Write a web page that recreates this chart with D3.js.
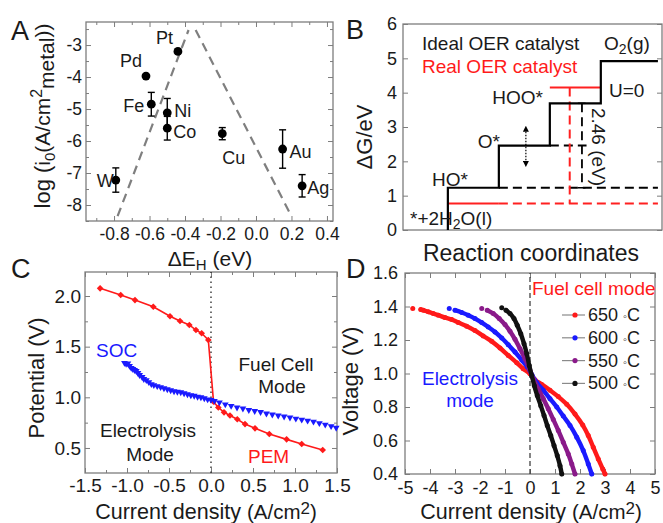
<!DOCTYPE html>
<html>
<head>
<meta charset="utf-8">
<script src="https://cdnjs.cloudflare.com/ajax/libs/d3/7.8.5/d3.min.js"></script>
<style>
  body { margin: 0; background: #fff; }
  text { font-family: "Liberation Sans", Arial, Helvetica, sans-serif; }
</style>
</head>
<body>
<div id="fig"></div>
<script>
// ---------------- A: HER volcano (exchange current vs dE_H)
var metals = ["W", "Pd", "Pt", "Fe", "Ni", "Co", "Cu", "Au", "Ag"];
var deltaEH = [-0.79, -0.62, -0.44, -0.59, -0.50, -0.50, -0.19, 0.15, 0.26];
var logI0 = [-7.22, -3.97, -3.20, -4.85, -5.12, -5.60, -5.77, -6.25, -7.40];
var logI0Err = [0.38, 0, 0, 0.37, 0.45, 0.37, 0.19, 0.60, 0.35];
var volcanoLeftX = [-0.78, -0.38], volcanoLeftY = [-8.35, -2.53];
var volcanoRightX = [-0.34, 0.20], volcanoRightY = [-2.53, -8.35];
var aXTicks = [-0.8, -0.6, -0.4, -0.2, 0.0, 0.2, 0.4];
var aYTicks = [-8, -7, -6, -5, -4, -3];

// ---------------- B: OER free energy diagram
var oerStates = ["*+2H2O(l)", "HO*", "O*", "HOO*", "O2(g)"];
var idealG = [0, 1.23, 2.46, 3.69, 4.92];
var realG = [0.77, 4.15];          // HO* and HOO* on a real catalyst
var realStep = [1, 3];             // which level they belong to
var bYTicks = [0, 1, 2, 3, 4, 5, 6];

// ---------------- C: PEM vs SOC polarisation
var pemJ = [-1.32, -1.075, -0.905, -0.687, -0.488, -0.369, -0.258, -0.179, -0.111, -0.032,
            0.03, 0.087, 0.155, 0.226, 0.313, 0.405, 0.524, 0.694, 0.90, 1.08, 1.33];
var pemV = [2.076, 2.01, 1.96, 1.894, 1.80, 1.753, 1.714, 1.664, 1.632, 1.566,
            0.957, 0.90, 0.852, 0.82, 0.783, 0.736, 0.694, 0.638, 0.585, 0.539, 0.48];
var socJ = [-1.03, -1.01, -0.99, -0.97, -0.95, -0.93, -0.91, -0.89, -0.87, -0.85, -0.82, -0.80,
            -0.77, -0.74, -0.71, -0.68, -0.64, -0.60, -0.56, -0.52, -0.48, -0.44, -0.40, -0.36,
            -0.32, -0.28, -0.24, -0.20, -0.16, -0.12, -0.08, -0.04, 0.0, 0.04, 0.10, 0.17, 0.24,
            0.31, 0.38, 0.45, 0.52, 0.59, 0.66, 0.73, 0.80, 0.87, 0.94, 1.01, 1.08, 1.15, 1.22,
            1.29, 1.36, 1.43, 1.49];
var socV = [1.34, 1.33, 1.335, 1.31, 1.29, 1.28, 1.27, 1.26, 1.24, 1.22, 1.20, 1.18,
            1.17, 1.15, 1.13, 1.12, 1.11, 1.10, 1.09, 1.08, 1.07, 1.06, 1.055, 1.05,
            1.04, 1.03, 1.02, 1.015, 1.005, 1.0, 0.99, 0.98, 0.975, 0.965, 0.95, 0.93, 0.915,
            0.90, 0.89, 0.875, 0.865, 0.855, 0.84, 0.83, 0.82, 0.81, 0.80, 0.79, 0.78, 0.77, 0.76,
            0.745, 0.73, 0.715, 0.70];
var cXTicks = [-1.5, -1.0, -0.5, 0.0, 0.5, 1.0, 1.5];
var cYTicks = [0.5, 1.0, 1.5, 2.0];

// ---------------- D: SOC i-V curves at 4 temperatures
var tempLabels = ["650", "600", "550", "500"];
var tempColors = ["#ff1a1a", "#1a1aff", "#8a1a8a", "#111111"];
var iv650J = [-4.69, -4.37, -4.27, -4.07, -3.87, -3.67, -3.40, -3.13, -2.87, -2.53, -2.20, -1.87, -1.53,
              -1.20, -0.87, -0.53, -0.27, 0.0, 0.20, 0.47, 0.80, 1.13, 1.47, 1.80, 2.11, 2.33, 2.53, 2.73, 2.91, 3.0];
var iv650V = [1.388, 1.382, 1.378, 1.368, 1.358, 1.348, 1.334, 1.322, 1.304, 1.282, 1.256, 1.224, 1.192,
              1.152, 1.108, 1.064, 1.028, 0.998, 0.962, 0.935, 0.900, 0.862, 0.816, 0.758, 0.692, 0.63, 0.56, 0.49, 0.43, 0.40];
var iv600J = [-3.23, -3.0, -2.73, -2.47, -2.2, -1.93, -1.67, -1.4, -1.13, -0.87, -0.6, -0.33, -0.11,
              0.07, 0.27, 0.53, 0.8, 1.07, 1.33, 1.6, 1.87, 2.13, 2.33, 2.47];
var iv600V = [1.388, 1.378, 1.364, 1.348, 1.328, 1.304, 1.278, 1.248, 1.212, 1.172, 1.128, 1.08, 1.04,
              0.994, 0.946, 0.90, 0.85, 0.80, 0.746, 0.69, 0.62, 0.54, 0.46, 0.40];
var iv550J = [-1.93, -1.71, -1.47, -1.23, -1.0, -0.8, -0.6, -0.4, -0.2, 0.0,
              0.13, 0.33, 0.53, 0.73, 0.93, 1.13, 1.33, 1.53, 1.67, 1.8];
var iv550V = [1.388, 1.378, 1.358, 1.328, 1.292, 1.252, 1.204, 1.148, 1.088, 1.018,
              0.968, 0.908, 0.85, 0.79, 0.726, 0.66, 0.59, 0.52, 0.46, 0.40];
var iv500J = [-1.13, -0.96, -0.8, -0.64, -0.51, -0.37, -0.24, -0.13, -0.03, 0.07,
              0.17, 0.29, 0.43, 0.56, 0.69, 0.83, 0.96, 1.09, 1.2, 1.27];
var iv500V = [1.392, 1.378, 1.358, 1.328, 1.288, 1.238, 1.178, 1.118, 1.048, 0.988,
              0.928, 0.868, 0.808, 0.75, 0.69, 0.63, 0.57, 0.51, 0.45, 0.40];
var dXTicks = [-5, -4, -3, -2, -1, 0, 1, 2, 3, 4, 5];
var dYTicks = [0.4, 0.6, 0.8, 1.0, 1.2, 1.4, 1.6];

var svg = d3.select("#fig").append("svg").attr("width", 663).attr("height", 523);
var frameColor = "#7d7d7d";
var ink = "#1a1a1a";
var hyph = function(f) { return function(d) { return f(d).replace("\u2212", "-"); }; };
var fmt1 = hyph(d3.format(".1f")), fmt0 = hyph(d3.format("d"));

// one side of ticks, pointing into the frame
function tickSide(g, make, scale, tr, vals, len, fmt, pad, fs) {
  if (!vals || !vals.length) return;
  var a = g.append("g").attr("transform", tr)
    .call(make(scale).tickValues(vals).tickSize(-len).tickPadding(pad || 3).tickFormat(fmt || ""));
  a.select(".domain").remove();
  a.selectAll(".tick line").attr("stroke", frameColor).attr("stroke-width", 1);
  a.selectAll(".tick text").attr("fill", ink).style("font-size", fs + "px");
}

function drawFrame(x, y, o) {
  var g = svg.append("g");
  var xr = x.range(), yr = y.range();
  g.append("rect").attr("x", xr[0]).attr("y", yr[1])
    .attr("width", xr[1] - xr[0]).attr("height", yr[0] - yr[1])
    .attr("fill", "none").attr("stroke", frameColor).attr("stroke-width", 1.3);
  tickSide(g, d3.axisBottom, x, "translate(0," + yr[0] + ")", o.xMajor, 5, o.xFmt, o.xPad, o.fs);
  tickSide(g, d3.axisBottom, x, "translate(0," + yr[0] + ")", o.xMinor, 3);
  tickSide(g, d3.axisTop, x, "translate(0," + yr[1] + ")", o.xMajor, 5);
  tickSide(g, d3.axisTop, x, "translate(0," + yr[1] + ")", o.xMinor, 3);
  tickSide(g, d3.axisLeft, y, "translate(" + xr[0] + ",0)", o.yMajor, 5, o.yFmt, o.yPad, o.fs);
  tickSide(g, d3.axisLeft, y, "translate(" + xr[0] + ",0)", o.yMinor, 3);
  tickSide(g, d3.axisRight, y, "translate(" + xr[1] + ",0)", o.yMajor, 5);
  tickSide(g, d3.axisRight, y, "translate(" + xr[1] + ",0)", o.yMinor, 3);
  return g;
}

function label(x, y, str, fs, opts) {
  opts = opts || {};
  var t = svg.append("text").attr("x", x).attr("y", y).style("font-size", fs + "px")
    .attr("fill", opts.color || ink).attr("text-anchor", opts.anchor || "start");
  if (opts.rotate) t.attr("transform", "rotate(" + opts.rotate + "," + x + "," + y + ")");
  t.text(str);
  return t;
}

// text with runs: [string, fontSize, dyPx]
function richLabel(x, y, runs, opts) {
  opts = opts || {};
  var t = svg.append("text").attr("x", x).attr("y", y)
    .attr("fill", opts.color || ink).attr("text-anchor", opts.anchor || "start");
  if (opts.rotate) t.attr("transform", "rotate(" + opts.rotate + "," + x + "," + y + ")");
  runs.forEach(function(r) {
    t.append("tspan").attr("dy", r[2] || 0).style("font-size", r[1] + "px").text(r[0]);
  });
  return t;
}

function panelLetter(x, y, s) { label(x, y, s, 27); }

// ================= Panel A =================
var xA = d3.scaleLinear().domain([-0.958, 0.434]).range([86, 333]);
var yA = d3.scaleLinear().domain([-8.5, -2.28]).range([221, 22]);
drawFrame(xA, yA, {
  xMajor: aXTicks, xMinor: d3.range(-0.9, 0.35, 0.2), xFmt: fmt1, xPad: 7,
  yMajor: aYTicks, yMinor: d3.range(-8.5, -2.4, 1), yFmt: fmt0, yPad: 4, fs: 17.5
});

var dashLine = d3.line();
[[volcanoLeftX, volcanoLeftY], [volcanoRightX, volcanoRightY]].forEach(function(v) {
  svg.append("path")
    .attr("d", dashLine(v[0].map(function(xv, i) { return [xA(xv), yA(v[1][i])]; })))
    .attr("stroke", "#7f7f7f").attr("stroke-width", 2.2).attr("stroke-dasharray", "9,6").attr("fill", "none");
});

var ptsA = metals.map(function(m, i) { return {m: m, x: deltaEH[i], y: logI0[i], e: logI0Err[i]}; });
var errG = svg.append("g").attr("stroke", "#000").attr("stroke-width", 1.4);
ptsA.filter(function(d) { return d.e > 0; }).forEach(function(d) {
  var cx = xA(d.x);
  errG.append("line").attr("x1", cx).attr("x2", cx).attr("y1", yA(d.y - d.e)).attr("y2", yA(d.y + d.e));
  errG.append("line").attr("x1", cx - 3.5).attr("x2", cx + 3.5).attr("y1", yA(d.y - d.e)).attr("y2", yA(d.y - d.e));
  errG.append("line").attr("x1", cx - 3.5).attr("x2", cx + 3.5).attr("y1", yA(d.y + d.e)).attr("y2", yA(d.y + d.e));
});
svg.append("g").selectAll("circle").data(ptsA).enter().append("circle")
  .attr("cx", function(d) { return xA(d.x); }).attr("cy", function(d) { return yA(d.y); })
  .attr("r", 4.4).attr("fill", "#000");

// label placement (px offsets from each point)
var aLabelPos = {
  W: [-2, 7, "end"], Pd: [-4, -9, "end"], Pt: [-5, -7, "end"], Fe: [-7, 8, "end"],
  Ni: [7, 4, "start"], Co: [6, 10, "start"], Cu: [0, 30, "start"], Au: [7, 9, "start"], Ag: [5, 8, "start"]
};
ptsA.forEach(function(d) {
  var p = aLabelPos[d.m];
  label(xA(d.x) + p[0], yA(d.y) + p[1], d.m, 18, {anchor: p[2]});
});

panelLetter(11, 40, "A");
richLabel(210, 266, [["\u0394E", 21], ["H", 15, 4], [" (eV)", 21, -4]], {anchor: "middle"});
richLabel(50, 116, [["log (", 22], ["i", 21], ["0", 15, 5], ["(A/cm", 21, -5], ["2", 16, -8],
  ["metal", 21, 12], ["))", 21, -4]], {anchor: "middle", rotate: -90});

// ================= Panel B =================
var xB = d3.scaleLinear().domain([-0.88, 4.2]).range([403, 662]);
var yB = d3.scaleLinear().domain([0, 6]).range([230, 24]);
drawFrame(xB, yB, { yMajor: bYTicks, yFmt: fmt0, yPad: 6, fs: 18 });

var xEnd = 4.12;
// ideal staircase
var ideal = [[0, idealG[0]]];
for (var k = 1; k < idealG.length; k++) {
  ideal.push([k - 1, idealG[k]]);
  ideal.push([k < idealG.length - 1 ? k : xEnd, idealG[k]]);
  if (k < idealG.length - 1) ideal.push([k, idealG[k + 1]]);
}
var lineB = d3.line().x(function(d) { return xB(d[0]); }).y(function(d) { return yB(d[1]); });
function segB(pts, color, dash, w) {
  svg.append("path").attr("d", lineB(pts)).attr("fill", "none").attr("stroke", color)
    .attr("stroke-width", w || 2).attr("stroke-dasharray", dash || null);
}
// dashed references
segB([[1, idealG[1]], [xEnd, idealG[1]]], "#000", "9,5");
segB([[2, idealG[2]], [2.72, idealG[2]]], "#000", "9,5");
segB([[2.63, idealG[3]], [2.63, idealG[1]]], "#000", "9,5", 1.8);
segB([[2.55, idealG[3]], [2.7, idealG[3]]], "#000", null, 1.5);
segB([[2.55, idealG[1]], [2.7, idealG[1]]], "#000", null, 1.5);
segB([[realStep[0], realG[0]], [xEnd, realG[0]]], "#ff2020", "9,5");
segB([[2.39, realG[1]], [2.39, realG[0]]], "#ff2020", "9,5");
// real catalyst solid levels
segB([[realStep[0] - 1, realG[0]], [realStep[0], realG[0]]], "#ff2020", null, 2);
segB([[realStep[1] - 1, realG[1]], [realStep[1], realG[1]]], "#ff2020", null, 2);
segB(ideal, "#000", null, 2.2);

// dotted double arrow
var defs = svg.append("defs");
defs.append("marker").attr("id", "ah").attr("viewBox", "0 0 10 10").attr("refX", 5).attr("refY", 5)
  .attr("markerWidth", 5).attr("markerHeight", 5).attr("orient", "auto-start-reverse")
  .append("path").attr("d", "M0,0 L10,5 L0,10 z").attr("fill", "#000");
svg.append("line").attr("x1", xB(1.53)).attr("x2", xB(1.53)).attr("y1", yB(2.95)).attr("y2", yB(1.92))
  .attr("stroke", "#000").attr("stroke-width", 1.2).attr("stroke-dasharray", "1.5,1.5")
  .attr("marker-start", "url(#ah)").attr("marker-end", "url(#ah)");

label(422, 50, "Ideal OER catalyst", 19);
label(422, 73, "Real OER catalyst", 19, {color: "#ff1a1a"});
richLabel(604, 50, [["O", 19], ["2", 14, 4], ["(g)", 19, -4]]);
label(609, 97, "U=0", 19);
label(543, 104, oerStates[3], 19, {anchor: "end"});
label(500, 148, oerStates[2], 19, {anchor: "end"});
label(432, 186, oerStates[1], 19);
richLabel(410, 225, [["*+2H", 19], ["2", 14, 4], ["O(l)", 19, -4]]);
label(592, 147, "2.46 (eV)", 19, {anchor: "middle", rotate: 90});
panelLetter(346, 39, "B");
label(372, 137, "\u0394G/eV", 22, {anchor: "middle", rotate: -90});
label(531, 261, "Reaction coordinates", 23, {anchor: "middle"});

// ================= Panel C =================
var xC = d3.scaleLinear().domain([-1.5, 1.5]).range([85, 337]);
var yC = d3.scaleLinear().domain([0.253, 2.237]).range([473, 272]);
drawFrame(xC, yC, {
  xMajor: cXTicks, xMinor: d3.range(-1.25, 1.5, 0.5), xFmt: fmt1, xPad: 6,
  yMajor: cYTicks, yMinor: [0.75, 1.25, 1.75], yFmt: fmt1, yPad: 4, fs: 19
});
svg.append("line").attr("x1", xC(0)).attr("x2", xC(0)).attr("y1", yC.range()[0]).attr("y2", yC.range()[1])
  .attr("stroke", "#222").attr("stroke-width", 1.3).attr("stroke-dasharray", "1.5,3.5");

var pem = pemJ.map(function(j, i) { return [xC(j), yC(pemV[i])]; });
var soc = socJ.map(function(j, i) { return [xC(j), yC(socV[i])]; });
svg.append("path").attr("d", d3.line()(pem)).attr("fill", "none").attr("stroke", "#ff1a1a").attr("stroke-width", 1.6);
svg.append("g").selectAll("path").data(pem).enter().append("path")
  .attr("d", d3.symbol(d3.symbolSquare, 22))
  .attr("transform", function(d) { return "translate(" + d[0] + "," + d[1] + ") rotate(45)"; })
  .attr("fill", "#ff1a1a");
svg.append("g").selectAll("path").data(soc).enter().append("path")
  .attr("d", d3.symbol(d3.symbolTriangle, 20))
  .attr("transform", function(d) { return "translate(" + d[0] + "," + d[1] + ") rotate(180)"; })
  .attr("fill", "#1a1aff");

label(96, 357, "SOC", 19, {color: "#1a1aff"});
label(276, 371, "Fuel Cell", 19, {anchor: "middle"});
label(282, 393, "Mode", 19, {anchor: "middle"});
label(148, 437, "Electrolysis", 19, {anchor: "middle"});
label(150, 461, "Mode", 19, {anchor: "middle"});
label(248, 463, "PEM", 19, {color: "#ff1a1a"});
panelLetter(11, 278, "C");
label(44, 378, "Potential (V)", 22, {anchor: "middle", rotate: -90});
richLabel(206, 519, [["Current density ", 21.5], ["(A/cm", 20.5], ["2", 17, -5], [")", 20.5, 5]], {anchor: "middle"});

// ================= Panel D =================
var xD = d3.scaleLinear().domain([-5, 5]).range([405, 655]);
var yD = d3.scaleLinear().domain([0.4, 1.6]).range([474, 273]);
drawFrame(xD, yD, {
  xMajor: dXTicks, xFmt: fmt0, xPad: 7,
  yMajor: dYTicks, yFmt: fmt1, yPad: 7, fs: 18
});
svg.append("line").attr("x1", xD(0)).attr("x2", xD(0)).attr("y1", yD.range()[0]).attr("y2", yD.range()[1])
  .attr("stroke", "#333").attr("stroke-width", 1.2).attr("stroke-dasharray", "5,3");

var ivSets = [[iv650J, iv650V], [iv600J, iv600V], [iv550J, iv550V], [iv500J, iv500V]];
var lineD = d3.line().curve(d3.curveCatmullRom);
ivSets.forEach(function(s, k) {
  var pts = s[0].map(function(j, i) { return [xD(j), yD(s[1][i])]; });
  svg.append("path").attr("d", lineD(pts.slice(1))).attr("fill", "none")
    .attr("stroke", tempColors[k]).attr("stroke-width", 4.4).attr("stroke-linecap", "round");
  svg.append("g").selectAll("circle").data(pts).enter().append("circle")
    .attr("cx", function(d) { return d[0]; }).attr("cy", function(d) { return d[1]; })
    .attr("r", 2.5).attr("fill", tempColors[k]);
});

// legend
tempLabels.forEach(function(t, k) {
  var ly = 321 + k * 22.8;
  svg.append("line").attr("x1", 562).attr("x2", 585).attr("y1", ly - 6).attr("y2", ly - 6)
    .attr("stroke", "#8a8a8a").attr("stroke-width", 1.2);
  svg.append("circle").attr("cx", 575).attr("cy", ly - 6).attr("r", 2.6).attr("fill", tempColors[k]);
  richLabel(588, ly, [[t + " ", 18], ["\u25E6", 11, -1], ["C", 18, 1]]);
});

label(532, 295, "Fuel cell mode", 19, {color: "#ff1a1a"});
label(470, 385, "Electrolysis", 19, {color: "#1a1aff", anchor: "middle"});
label(470, 407, "mode", 19, {color: "#1a1aff", anchor: "middle"});
panelLetter(346, 278, "D");
label(358, 381, "Voltage (V)", 22, {anchor: "middle", rotate: -90});
richLabel(531, 519, [["Current density ", 21.5], ["(A/cm", 20.5], ["2", 17, -5], [")", 20.5, 5]], {anchor: "middle"});
</script>
</body>
</html>
